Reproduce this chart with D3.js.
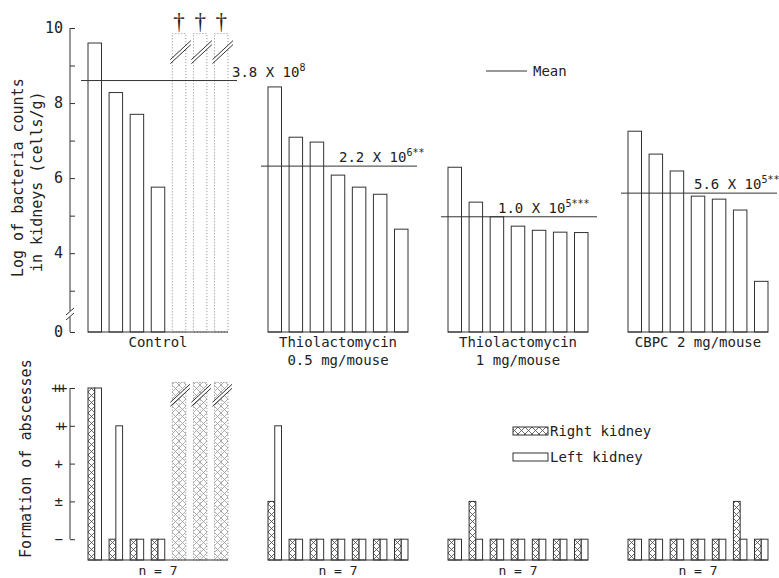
<!DOCTYPE html>
<html>
<head>
<meta charset="utf-8">
<script src="https://cdn.jsdelivr.net/npm/d3@7"></script>
<style>
  body { margin: 0; background: #fff; }
  text { font-family: "DejaVu Sans Mono", monospace; fill: #222; }
</style>
</head>
<body>
<script>
// groups and their two-line captions
const groupLines = [["Control"], ["Thiolactomycin", "0.5 mg/mouse"], ["Thiolactomycin", "1 mg/mouse"], ["CBPC 2 mg/mouse"]];
const sampleSize = [7, 7, 7, 7];

// log of bacteria counts per mouse (null = mouse died)
const logCounts = [
    [9.6, 8.28, 7.7, 5.76, null, null, null],
    [8.43, 7.09, 6.96, 6.08, 5.76, 5.57, 4.64],
    [6.29, 5.36, 4.97, 4.72, 4.61, 4.56, 4.55],
    [7.25, 6.64, 6.19, 5.52, 5.44, 5.15, 3.25]
];
const means = [8.6, 6.32, 4.97, 5.6];
const meanMantissa = ["3.8", "2.2", "1.0", "5.6"];
const meanExponent = ["8", "6", "5", "5"];
const meanStars = ["", "**", "***", "**"];

// abscess score: 0 = "−", 1 = "±", 2 = "+", 3 = "++", 4 = "+++"
const abscessLabels = ["−", "±", "+", "++", "+++"];
const rightKidney = [
    [4, 0, 0, 0, null, null, null],
    [1, 0, 0, 0, 0, 0, 0],
    [0, 1, 0, 0, 0, 0, 0],
    [0, 0, 0, 0, 0, 1, 0]
];
const leftKidney = [
    [4, 3, 0, 0, null, null, null],
    [3, 0, 0, 0, 0, 0, 0],
    [0, 0, 0, 0, 0, 0, 0],
    [0, 0, 0, 0, 0, 0, 0]
];

const topTicks = [4, 6, 8, 10], topMinor = [3, 5, 7, 9];
const axisBase = 1.9, deadTop = 9.85, deadBot = 4.15;
const meanLabelDx = [144, 71, 50, 66];

const W = 779, H = 578;
const svg = d3.select("body").append("svg").attr("width", W).attr("height", H);

const defs = svg.append("defs");
const pat = defs.append("pattern").attr("id", "hatch").attr("patternUnits", "userSpaceOnUse")
    .attr("width", 7).attr("height", 7).attr("x", 0).attr("y", 0);
pat.append("path").attr("d", "M0,0L7,7M7,0L0,7").attr("stroke", "#444").attr("stroke-width", 0.8);
const pat2 = defs.append("pattern").attr("id", "hatchLight").attr("patternUnits", "userSpaceOnUse")
    .attr("width", 7).attr("height", 7);
pat2.append("path").attr("d", "M0,0L7,7M7,0L0,7").attr("stroke", "#999").attr("stroke-width", 0.8);

const xGroup = d3.scaleBand().domain(d3.range(4)).range([88, 768]).paddingInner(40 / 180);
const xBar = d3.scaleBand().domain(d3.range(7)).range([0, xGroup.bandwidth()]).paddingInner(0.36);
const xSide = d3.scaleBand().domain(["right", "left"]).range([0, xBar.bandwidth()]);
const yTop = d3.scaleLinear().domain([axisBase, 10]).range([332, 28]);
const yBot = d3.scaleLinear().domain([-0.55, 4]).range([560, 388]);

const ink = "#333";

// ---------- top panel ----------
const topAxis = svg.append("g").attr("transform", "translate(70,0)")
    .call(d3.axisLeft(yTop).tickValues([axisBase].concat(topTicks)).tickSize(-5).tickPadding(7)
        .tickFormat(d => d === axisBase ? "0" : d));
topAxis.call(g => g.select(".domain").remove());
topAxis.append("g").call(d3.axisLeft(yTop).tickValues(topMinor).tickSize(-5).tickFormat(""))
    .call(g => g.select(".domain").remove());
topAxis.selectAll("line").attr("stroke", ink);
topAxis.selectAll("text").attr("font-size", 15).attr("fill", "#222");
topAxis.append("line").attr("x1", 0).attr("x2", 0).attr("y1", yTop(10)).attr("y2", yTop(axisBase) - 21).attr("stroke", ink);
topAxis.append("line").attr("x1", 0).attr("x2", 0).attr("y1", yTop(axisBase) - 15).attr("y2", yTop(axisBase)).attr("stroke", ink);
topAxis.append("line").attr("x1", -4).attr("x2", 4).attr("y1", yTop(axisBase) - 17).attr("y2", yTop(axisBase) - 24).attr("stroke", ink);
topAxis.append("line").attr("x1", -4).attr("x2", 4).attr("y1", yTop(axisBase) - 12).attr("y2", yTop(axisBase) - 19).attr("stroke", ink);

const yTitle = svg.append("g");
yTitle.append("text").attr("transform", "translate(23,277) rotate(-90)").attr("font-size", 15).text("Log of bacteria counts");
yTitle.append("text").attr("transform", "translate(42,272) rotate(-90)").attr("font-size", 15).text("in kidneys (cells/g)");

groupLines.forEach((lines, gi) => {
    const g = svg.append("g").attr("transform", `translate(${xGroup(gi)},0)`);
    const gw = xGroup.bandwidth();
    logCounts[gi].forEach((v, i) => {
        const x = xBar(i), bw = xBar.bandwidth();
        if (v === null) {
            g.append("rect").attr("x", x).attr("y", yTop(deadTop)).attr("width", bw)
                .attr("height", yTop(axisBase) - yTop(deadTop))
                .attr("fill", "none").attr("stroke", "#888").attr("stroke-dasharray", "1,2");
            const y0 = yTop(deadTop) + 20;
            g.append("polygon").attr("points", `${x - 2},${y0 + 6} ${x + bw + 5},${y0 - 13} ${x + bw + 5},${y0 - 9} ${x - 2},${y0 + 10}`)
                .attr("fill", "#fff");
            g.append("line").attr("x1", x - 2).attr("y1", y0 + 6).attr("x2", x + bw + 5).attr("y2", y0 - 13).attr("stroke", ink);
            g.append("line").attr("x1", x - 2).attr("y1", y0 + 10).attr("x2", x + bw + 5).attr("y2", y0 - 9).attr("stroke", ink);
            g.append("text").attr("x", x + bw / 2).attr("y", 29).attr("text-anchor", "middle")
                .attr("font-size", 23).style("font-family", "'Liberation Serif', serif").text("†");
        } else {
            g.append("rect").attr("x", x).attr("y", yTop(v)).attr("width", bw)
                .attr("height", yTop(axisBase) - yTop(v))
                .attr("fill", "none").attr("stroke", ink);
        }
    });
    g.append("line").attr("x1", 0).attr("x2", gw).attr("y1", yTop(axisBase)).attr("y2", yTop(axisBase)).attr("stroke", ink);
    g.append("line").attr("x1", -7).attr("x2", gw + 9).attr("y1", yTop(means[gi])).attr("y2", yTop(means[gi])).attr("stroke", ink);
    const ml = g.append("text").attr("x", meanLabelDx[gi]).attr("y", yTop(means[gi]) - 4).attr("font-size", 14);
    ml.append("tspan").text(meanMantissa[gi] + " X 10");
    ml.append("tspan").attr("dy", -6).attr("font-size", 10).text(meanExponent[gi] + meanStars[gi]);

    lines.forEach((t, li) => {
        g.append("text").attr("x", gw / 2).attr("y", 347 + li * 18).attr("text-anchor", "middle")
            .attr("font-size", 14).text(t);
    });

    // ---------- bottom panel ----------
    [["right", rightKidney], ["left", leftKidney]].forEach(([side, data]) => {
        data[gi].forEach((v, i) => {
            const x = xBar(i) + xSide(side), sw = xSide.bandwidth();
            if (v === null) return;
            g.append("rect").attr("x", x).attr("y", yBot(v)).attr("width", sw)
                .attr("height", yBot(-0.55) - yBot(v))
                .attr("fill", side === "right" ? "url(#hatch)" : "#fff").attr("stroke", ink);
        });
    });
    rightKidney[gi].forEach((v, i) => {
        if (v !== null) return;
        const x = xBar(i), bw = xBar.bandwidth();
        g.append("rect").attr("x", x).attr("y", yBot(deadBot)).attr("width", bw)
            .attr("height", yBot(-0.55) - yBot(deadBot))
            .attr("fill", "url(#hatchLight)").attr("stroke", "#888").attr("stroke-dasharray", "1,2");
        g.append("line").attr("x1", x + bw / 2).attr("x2", x + bw / 2).attr("y1", yBot(deadBot)).attr("y2", yBot(-0.55))
            .attr("stroke", "#999").attr("stroke-dasharray", "1,2");
        const y0 = yBot(deadBot) + 14;
        g.append("polygon").attr("points", `${x - 2},${y0 + 6} ${x + bw + 4},${y0 - 12} ${x + bw + 4},${y0 - 8} ${x - 2},${y0 + 10}`)
            .attr("fill", "#fff");
        g.append("line").attr("x1", x - 2).attr("y1", y0 + 6).attr("x2", x + bw + 4).attr("y2", y0 - 12).attr("stroke", ink);
        g.append("line").attr("x1", x - 2).attr("y1", y0 + 10).attr("x2", x + bw + 4).attr("y2", y0 - 8).attr("stroke", ink);
    });
    g.append("line").attr("x1", 0).attr("x2", gw).attr("y1", yBot(-0.55)).attr("y2", yBot(-0.55)).attr("stroke", ink);
    g.append("text").attr("x", gw / 2).attr("y", 575).attr("text-anchor", "middle").attr("font-size", 13)
        .text("n = " + sampleSize[gi]);
});

// mean legend
svg.append("line").attr("x1", 486).attr("x2", 527).attr("y1", 71).attr("y2", 71).attr("stroke", ink);
svg.append("text").attr("x", 533).attr("y", 76).attr("font-size", 14).text("Mean");

// bottom axis
const botAxis = svg.append("g").attr("transform", "translate(70,0)")
    .call(d3.axisLeft(yBot).tickValues(d3.range(abscessLabels.length)).tickSize(-5).tickPadding(7)
        .tickFormat(i => abscessLabels[i]));
botAxis.call(g => g.select(".domain").remove());
botAxis.selectAll("line").attr("stroke", ink);
botAxis.selectAll("text").attr("font-size", 14).attr("fill", "#222")
    .style("letter-spacing", d => abscessLabels[d].length > 1 ? "-4.5px" : "0px");
botAxis.append("line").attr("x1", 0).attr("x2", 0).attr("y1", yBot(4)).attr("y2", yBot(0)).attr("stroke", ink);

svg.append("text").attr("transform", "translate(31,558) rotate(-90)").attr("font-size", 15).text("Formation of abscesses");

// kidney legend
const leg = svg.append("g");
leg.append("rect").attr("x", 513).attr("y", 427).attr("width", 35).attr("height", 8).attr("fill", "url(#hatch)").attr("stroke", ink);
leg.append("text").attr("x", 550).attr("y", 436).attr("font-size", 14).text("Right kidney");
leg.append("rect").attr("x", 513).attr("y", 453).attr("width", 35).attr("height", 8).attr("fill", "#fff").attr("stroke", ink);
leg.append("text").attr("x", 550).attr("y", 462).attr("font-size", 14).text("Left kidney");
</script>
</body>
</html>
